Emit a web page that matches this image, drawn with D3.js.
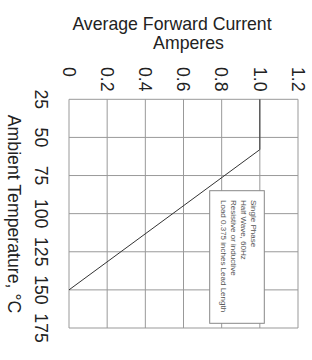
<!DOCTYPE html>
<html><head><meta charset="utf-8">
<script src="https://cdn.jsdelivr.net/npm/d3@7"></script>
<style>body{margin:0;background:#fff}svg{display:block;font-family:"Liberation Sans",Arial,sans-serif}</style>
</head><body>
<script>
const currentTicks = [0, 0.2, 0.4, 0.6, 0.8, 1.0, 1.2];
const currentTickLabels = ["0", "0.2", "0.4", "0.6", "0.8", "1.0", "1.2"];
const tempTicks = [25, 50, 75, 100, 125, 150, 175];
const tempTickLabels = ["25", "50", "75", "100", "125", "150", "175"];
const curveTemp = [25, 58, 150];
const curveCurrent = [1.0, 1.0, 0];
const legendLines = ["Single Phase", "Half Wave, 60Hz", "Resistive or inductive", "Load 0.375 inches Lead Length"];

const W = 312, H = 360;
const svg = d3.select("body").append("svg").attr("width", W).attr("height", H);
const x = d3.scaleLinear().domain([0, 1.2]).range([69, 298]);
const y = d3.scaleLinear().domain([25, 175]).range([99.3, 328]);

// grid
const grid = svg.append("g").attr("stroke", "#999").attr("stroke-width", 1).attr("fill", "none");
grid.selectAll("line.v").data(currentTicks).join("line").attr("class", "v")
  .attr("x1", d => x(d)).attr("x2", d => x(d)).attr("y1", y(25)).attr("y2", y(175));
grid.selectAll("line.h").data(tempTicks).join("line").attr("class", "h")
  .attr("x1", x(0)).attr("x2", x(1.2)).attr("y1", d => y(d)).attr("y2", d => y(d));

// data line
const pts = curveTemp.map((t, i) => [x(curveCurrent[i]), y(t)]);
svg.append("path").attr("d", d3.line()(pts)).attr("fill", "none").attr("stroke", "#333").attr("stroke-width", 1);

// legend box
const lg = svg.append("g");
lg.append("rect").attr("x", 209.7).attr("y", 190.7).attr("width", 54.6).attr("height", 132.6)
  .attr("fill", "#fff").attr("stroke", "#888").attr("stroke-width", 1);
legendLines.forEach((t, i) => {
  lg.append("text").attr("transform", `translate(${250.7 - i * 10},200) rotate(90)`)
    .attr("font-size", 8).attr("fill", "#555").text(t);
});

// top tick labels
svg.append("g").selectAll("text").data(currentTicks).join("text")
  .attr("transform", d => `translate(${x(d)},67) rotate(90)`)
  .attr("dy", "0.35em").attr("font-size", 17.7).attr("fill", "#222")
  .attr("text-anchor", "start").text((d, i) => currentTickLabels[i]);

// left tick labels
svg.append("g").selectAll("text").data(tempTicks).join("text")
  .attr("transform", d => `translate(41,${y(d)}) rotate(90)`)
  .attr("dy", "0.35em").attr("font-size", 17.7).attr("fill", "#222")
  .attr("text-anchor", "middle").text((d, i) => tempTickLabels[i]);

// titles
svg.append("text").attr("x", 172).attr("y", 29.5).attr("text-anchor", "middle")
  .attr("font-size", 17.7).attr("fill", "#222").text("Average Forward Current");
svg.append("text").attr("x", 188.5).attr("y", 49).attr("text-anchor", "middle")
  .attr("font-size", 17.7).attr("fill", "#222").text("Amperes");
svg.append("text").attr("transform", `translate(7.5,214) rotate(90)`)
  .attr("text-anchor", "middle").attr("font-size", 17.7).attr("fill", "#222")
  .text("Ambient Temperature, °C");
</script>
</body></html>
